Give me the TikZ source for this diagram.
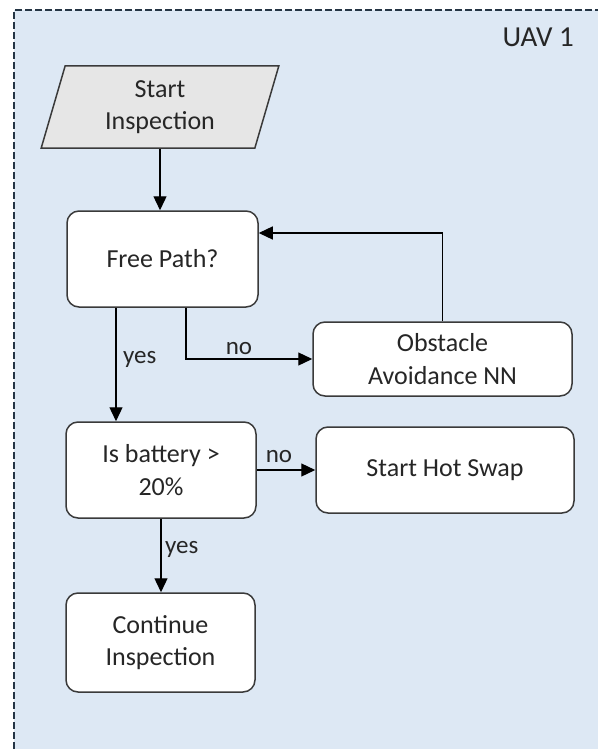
\documentclass[tikz,border=0pt]{standalone}
\usepackage{fontspec}
\setmainfont{Carlito}
\usetikzlibrary{arrows.meta,shapes.geometric}

\definecolor{panelblue}{HTML}{DDE8F4}
\definecolor{panelline}{HTML}{243444}
\definecolor{boxline}{HTML}{3A3A3A}
\definecolor{inputgray}{HTML}{E6E6E6}
\definecolor{textdark}{HTML}{262626}

\tikzset{
  procbox/.style={draw=boxline, line width=1.5pt, fill=white, rounded corners=12pt,
    align=center, text=textdark, font=\fontsize{26}{32.5}\selectfont, inner sep=2pt},
  inputbox/.style={trapezium, trapezium left angle=76, trapezium right angle=104,
    trapezium stretches=true, draw=boxline, line width=1.5pt, fill=inputgray,
    align=center, text=textdark, font=\fontsize{26}{32.5}\selectfont, inner sep=2pt},
  flow/.style={draw=black, line width=1.3pt, -{Triangle[length=14pt,width=13pt]}},
  lbl/.style={text=textdark, font=\fontsize{25}{30}\selectfont, inner sep=0pt},
}

\begin{document}
\begin{tikzpicture}[x=1pt,y=-1pt]
  \useasboundingbox (0,0) rectangle (598,749);

  % swimlane panel for the first drone
  \fill[panelblue] (14,10) rectangle (598,749);
  \draw[panelline, line width=2.6pt, dash pattern=on 7pt off 3pt] (14,749) -- (14,10) -- (598,10);
  \node[text=textdark, font=\fontsize{29}{34}\selectfont, anchor=base east, inner sep=0pt]
    (lane) at (574,47) {UAV 1};

  % flow steps
  \node[inputbox, minimum width=238pt, minimum height=82pt] (start) at (160,107) {Start\\Inspection};
  \node[procbox, minimum width=191pt, minimum height=96pt] (freepath) at (162.5,259) {Free Path?};
  \node[procbox, minimum width=259pt, minimum height=74pt] (obstacle) at (442.5,359) {Obstacle\\Avoidance NN};
  \node[procbox, minimum width=190pt, minimum height=96pt] (battery) at (161,470) {Is battery >\\20\%};
  \node[procbox, minimum width=258pt, minimum height=86pt] (hotswap) at (445,470) {Start Hot Swap};
  \node[procbox, minimum width=189pt, minimum height=99pt] (continue) at (160.5,642.5) {Continue\\Inspection};

  % connectors
  \draw[flow] (start.south) -- (start.south |- freepath.north);
  \draw[flow] ([xshift=-46.5pt]freepath.south) -- ([xshift=-46.5pt]freepath.south |- battery.north);
  \draw[flow] ([xshift=23.5pt]freepath.south) |- (obstacle.west);
  \draw[flow] (obstacle.north) |- ([yshift=26pt]freepath.east);
  \draw[flow] (battery.east) -- (hotswap.west);
  \draw[flow] (battery.south) -- (battery.south |- continue.north);

  % branch labels
  \node[lbl, anchor=base west] (yesA) at (123,363) {yes};
  \node[lbl, anchor=base] (noA) at (239,354) {no};
  \node[lbl, anchor=base] (noB) at (279,462) {no};
  \node[lbl, anchor=base west] (yesB) at (165,553) {yes};
\end{tikzpicture}
\end{document}
